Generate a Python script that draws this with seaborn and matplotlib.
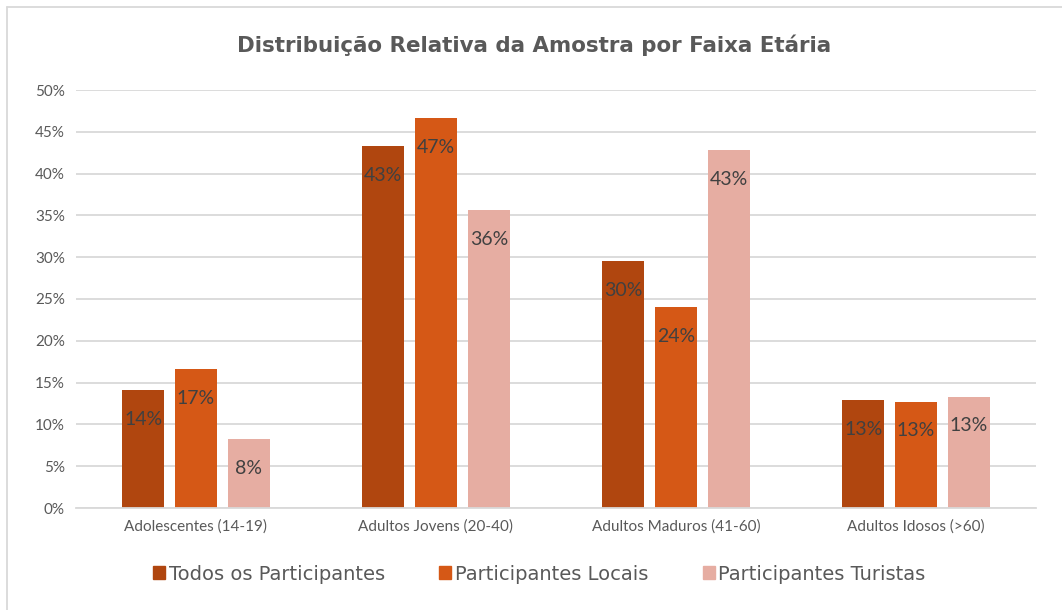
import matplotlib
matplotlib.use("Agg")
import matplotlib.pyplot as plt
from matplotlib.lines import Line2D
from matplotlib.ticker import PercentFormatter
import pandas as pd
import seaborn as sns

# dados
categorias = ["Adolescentes (14-19)", "Adultos Jovens (20-40)",
              "Adultos Maduros (41-60)", "Adultos Idosos (>60)"]
series = ["Todos os Participantes", "Participantes Locais", "Participantes Turistas"]
todos = [0.141, 0.433, 0.295, 0.129]
locais = [0.166, 0.466, 0.240, 0.127]
turistas = [0.082, 0.356, 0.428, 0.133]
cores = ["#B0460F", "#D55816", "#E6ADA2"]

df = pd.DataFrame({
    "Faixa": categorias * 3,
    "Grupo": [s for s in series for _ in categorias],
    "Valor": todos + locais + turistas,
})

sns.set_theme(style="white")
plt.rcParams["font.family"] = ["Lato", "DejaVu Sans"]

fig = plt.figure(figsize=(10.62, 6.10), dpi=100)
ax = fig.add_axes([76 / 1062, 102 / 610, 960 / 1062, 418 / 610])

sns.barplot(data=df, x="Faixa", y="Valor", hue="Grupo", order=categorias,
            hue_order=series, palette=cores, width=0.66, gap=0.2,
            edgecolor="none", saturation=1, ax=ax)

for cont in ax.containers:
    labels = [f"{v * 100:.0f}%" for v in cont.datavalues]
    ax.bar_label(cont, labels=labels, label_type="edge", padding=-27,
                 fontsize=14, color="#404040")

ax.set_ylim(0, 0.5)
ax.set_yticks([i * 0.05 for i in range(11)])
ax.yaxis.set_major_formatter(PercentFormatter(1.0, decimals=0))
ax.grid(axis="y", color="#D9D9D9", linewidth=1.3)
ax.set_axisbelow(True)
for s in ["left", "right", "top"]:
    ax.spines[s].set_visible(False)
ax.spines["bottom"].set_color("#D9D9D9")
ax.spines["bottom"].set_linewidth(1.3)
ax.tick_params(axis="both", length=0, labelsize=11, colors="#595959", pad=8)
ax.set_xlabel("")
ax.set_ylabel("")

fig.text(0.503, 0.925, "Distribuição Relativa da Amostra por Faixa Etária",
         ha="center", va="center", fontsize=15.4, fontweight="bold", color="#595959",
         family="DejaVu Sans")

ax.legend_.remove()
handles = [plt.Rectangle((0, 0), 1, 1, color=c) for c in cores]
fig.legend(handles, series, loc="center", bbox_to_anchor=(0.508, 0.059), ncol=3,
           frameon=False, handlelength=0.6, handleheight=0.6,
           handletextpad=0.2, columnspacing=2.8, labelcolor="#595959",
           prop={"family": "DejaVu Sans", "size": 14})

# moldura da área do gráfico
fig.add_artist(Line2D([6.5 / 1062, 6.5 / 1062], [0, 1 - 6.5 / 610],
                      transform=fig.transFigure, color="#D9D9D9", lw=1.3))
fig.add_artist(Line2D([6.5 / 1062, 1], [1 - 6.5 / 610, 1 - 6.5 / 610],
                      transform=fig.transFigure, color="#D9D9D9", lw=1.3))

fig.savefig("out.png", dpi=100)
